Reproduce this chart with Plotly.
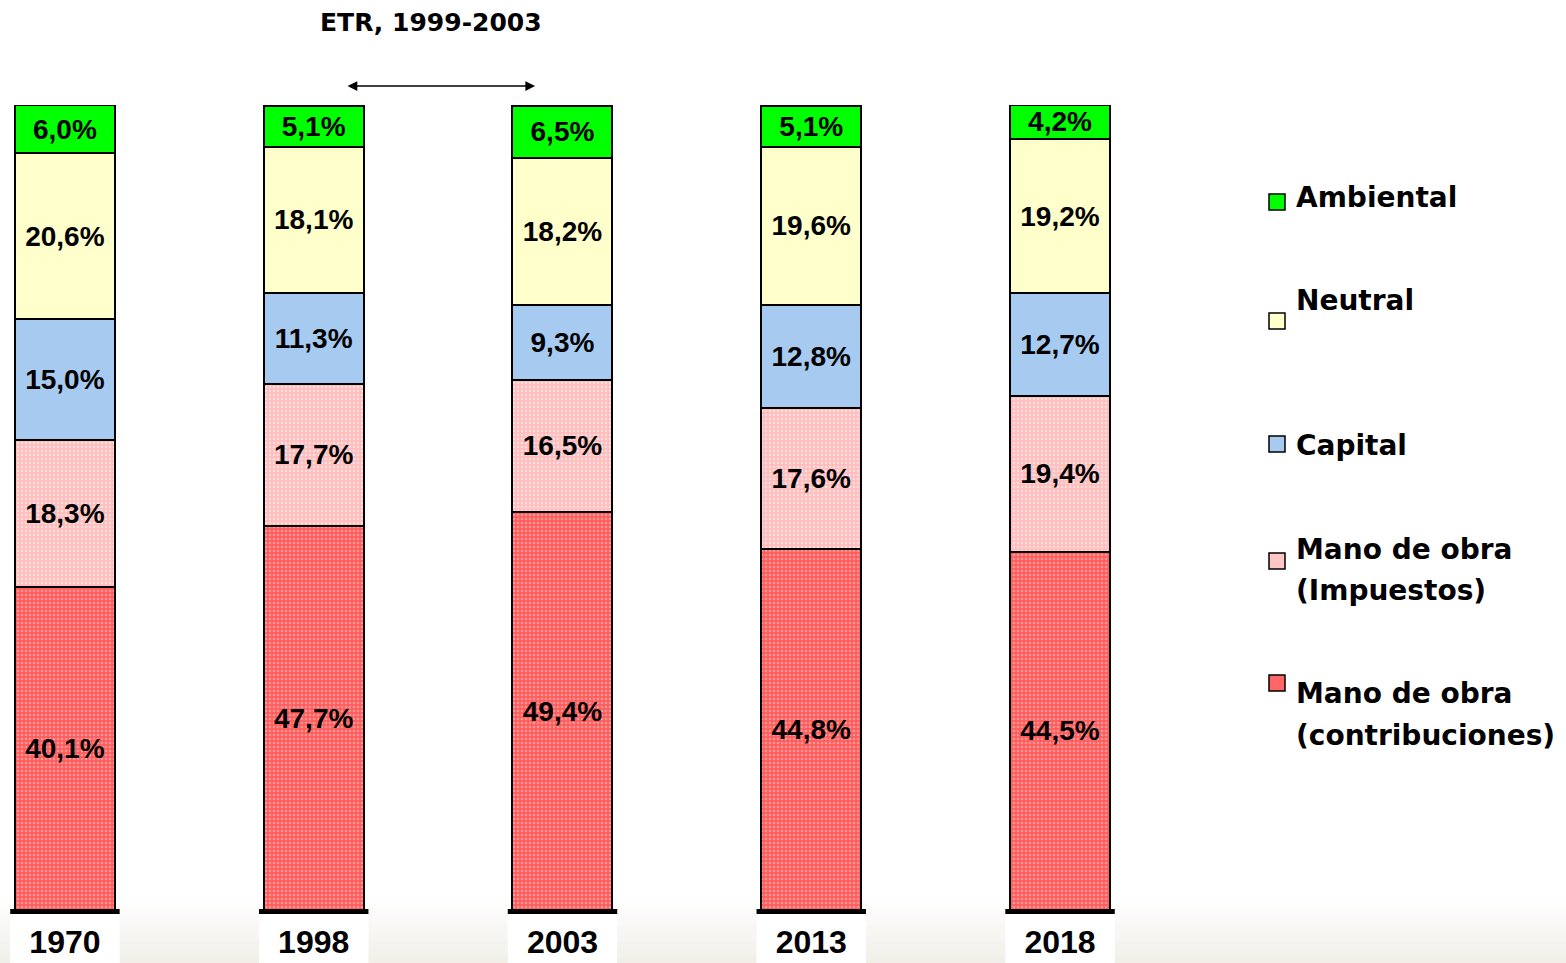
import plotly.graph_objects as go

# ---- data ----
years = ["1970", "1998", "2003", "2013", "2018"]
mano_contrib = [40.1, 47.7, 49.4, 44.8, 44.5]
mano_impuestos = [18.3, 17.7, 16.5, 17.6, 19.4]
capital = [15.0, 11.3, 9.3, 12.8, 12.7]
neutral = [20.6, 18.1, 18.2, 19.6, 19.2]
ambiental = [6.0, 5.1, 6.5, 5.1, 4.2]

series_names = ["Mano de obra (contribuciones)", "Mano de obra (Impuestos)",
                "Capital", "Neutral", "Ambiental"]
title_text = "ETR, 1999-2003"
etr_span = [1998, 2003]

W, H = 1566, 963
PLOT_RIGHT = 1120
x_idx = list(range(len(years)))
x_range = [-0.261, 4.241]
bar_w = 0.402

def fmt(v):
    return f"{v:.1f}".replace(".", ",") + "%"

styles = [
    dict(color="#FF6666", pattern=dict(shape=".", fgcolor="#FFD0D0", bgcolor="#FF5C5C", size=4, solidity=0.35)),
    dict(color="#FFC6C6", pattern=dict(shape=".", fgcolor="#FFFFFF", bgcolor="#FFBDBD", size=4, solidity=0.3)),
    dict(color="#A6CAF0"),
    dict(color="#FFFFCC"),
    dict(color="#00FF00"),
]
values = [mano_contrib, mano_impuestos, capital, neutral, ambiental]

fig = go.Figure()
for name, vals, st in zip(series_names, values, styles):
    marker = dict(color=st["color"], line=dict(color="black", width=2))
    if "pattern" in st:
        marker["pattern"] = st["pattern"]
    fig.add_trace(go.Bar(
        x=x_idx, y=vals, name=name, width=bar_w,
        marker=marker,
        text=[fmt(v) for v in vals],
        textposition="inside", insidetextanchor="middle", textangle=0,
        textfont=dict(family="Liberation Sans", size=28, color="black", weight="bold"),
        showlegend=False, hoverinfo="skip",
    ))

shapes = []
# bottom gradient background
n_bands = 12
py_top, py_bot = 898, H
for k in range(n_bands):
    t = (k + 0.5) / n_bands
    r = int(255 - t * 13); g = int(255 - t * 16); b = int(255 - t * 22)
    y0p = py_top + (py_bot - py_top) * k / n_bands
    y1p = py_top + (py_bot - py_top) * (k + 1) / n_bands + 1
    shapes.append(dict(type="rect", xref="paper", yref="paper", layer="below",
                       x0=0, x1=1, y0=(910 - y0p) / 805, y1=(910 - y1p) / 805,
                       line=dict(width=0), fillcolor=f"rgb({r},{g},{b})"))
# white label boxes and baselines under each bar
for i in x_idx:
    shapes.append(dict(type="rect", xref="x", yref="paper", layer="below",
                       x0=i - 0.22, x1=i + 0.22, y0=0, y1=-0.07,
                       line=dict(width=0), fillcolor="white"))
    shapes.append(dict(type="line", xref="x", yref="paper", layer="above",
                       x0=i - 0.22, x1=i + 0.22, y0=-0.002, y1=-0.002,
                       line=dict(color="black", width=5)))

# custom legend
leg_keys = [  # (series index, key top px, text lines with center px)
    (4, 194, [("Ambiental", 197)]),
    (3, 313, [("Neutral", 300)]),
    (2, 436, [("Capital", 445)]),
    (1, 553, [("Mano de obra", 549), ("(Impuestos)", 590)]),
    (0, 675, [("Mano de obra", 693), ("(contribuciones)", 735)]),
]
annotations = []
for si, ktop, lines in leg_keys:
    st = styles[si]
    shapes.append(dict(type="rect", xref="paper", yref="paper",
                       x0=1269 / W, x1=1285 / W,
                       y0=(910 - ktop) / 805, y1=(910 - ktop - 16) / 805,
                       line=dict(color="black", width=1.5), fillcolor=st["color"]))
    for txt, cy in lines:
        annotations.append(dict(text=txt, xref="paper", yref="paper",
                                x=1294 / W, y=(910 - cy) / 805,
                                xanchor="left", yanchor="middle", showarrow=False,
                                font=dict(family="DejaVu Sans", size=28, color="black", weight="bold")))

# title text
annotations.append(dict(text=title_text, xref="paper", yref="paper",
                        x=431 / W, y=(910 - 23) / 805, xanchor="center", yanchor="middle",
                        showarrow=False,
                        font=dict(family="DejaVu Sans", size=25, color="black", weight="bold")))
# double arrow between the ETR years
i0 = years.index(str(etr_span[0])); i1 = years.index(str(etr_span[1]))
annotations.append(dict(text="", xref="x", yref="paper", axref="x", ayref="pixel",
                        x=i1 - 0.11, y=(910 - 86) / 805, ax=i0 + 0.13, ay=0,
                        showarrow=True, arrowhead=2, startarrowhead=2, arrowside="end+start",
                        arrowsize=1.3, startarrowsize=1.3, arrowwidth=1.5, arrowcolor="black"))

fig.update_layout(
    width=W, height=H, barmode="stack",
    margin=dict(l=0, r=0, t=105, b=53, pad=0),
    paper_bgcolor="white", plot_bgcolor="rgba(0,0,0,0)",
    uniformtext=dict(mode="show", minsize=28),
    shapes=shapes, annotations=annotations,
    xaxis=dict(domain=[0, PLOT_RIGHT / W], range=x_range, tickvals=x_idx, ticktext=years,
               showgrid=False, zeroline=False, showline=False, automargin=False,
               ticks="outside", ticklen=4, tickcolor="rgba(0,0,0,0)",
               tickfont=dict(family="Liberation Sans", size=32, color="black", weight="bold")),
    yaxis=dict(range=[0, 100], visible=False, showgrid=False, zeroline=False, automargin=False),
)

fig.write_html("out.html", config={"displayModeBar": False},
               post_script="document.body.style.margin='0';document.body.style.overflow='hidden';")
